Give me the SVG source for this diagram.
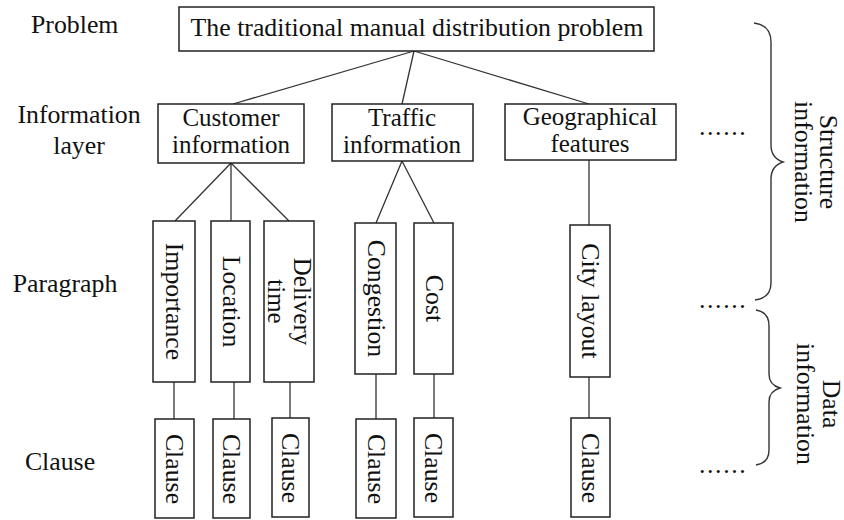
<svg xmlns="http://www.w3.org/2000/svg" width="844" height="520" viewBox="0 0 844 520">
<style>
text{font-family:"Liberation Serif","Times New Roman",serif;font-size:25.8px;fill:#111}
.box{fill:#fff;stroke:#222;stroke-width:1.5}
.c{stroke:#333;stroke-width:1.3;fill:none}
.m{text-anchor:middle}
.t2{font-size:25px}
.v{text-anchor:middle;dominant-baseline:central}
.br{stroke:#333;stroke-width:1.4;fill:none}
.dots{letter-spacing:1.6px}
</style>
<rect width="844" height="520" fill="#fff"/>
<g id="labels">
<text x="31" y="33">Problem</text>
<text class="m" x="79" y="123">Information</text>
<text class="m" x="79" y="154">layer</text>
<text class="m" x="65" y="292">Paragraph</text>
<text class="m" x="60" y="470">Clause</text>
</g>
<g id="connectors">
<path class="c" d="M414 51L233 104M414 51L402 104M414 51L589 104"/>
<path class="c" d="M231 163L175 221M231 163L231 221M231 163L289 221"/>
<path class="c" d="M402 161L376 223M402 161L434 223"/>
<path class="c" d="M589 160L589 225"/>
<path class="c" d="M174 382V419M234 382V419M290 382V418M376 374V419M434 374V418M589 377V418"/>
</g>
<g id="problem"><rect class="box" x="179" y="7" width="475" height="44"/><text class="m" x="417" y="36">The traditional manual distribution problem</text></g>
<g id="customer"><rect class="box" x="158" y="104" width="146" height="59"/><text class="m t2" x="231" y="125.5">Customer</text><text class="m t2" x="231" y="152.5">information</text></g>
<g id="traffic"><rect class="box" x="332" y="104" width="141" height="57"/><text class="m t2" x="402" y="125.5">Traffic</text><text class="m t2" x="402" y="152.5">information</text></g>
<g id="geo"><rect class="box" x="505" y="104" width="171" height="56"/><text class="m t2" x="590" y="125">Geographical</text><text class="m t2" x="590" y="152">features</text></g>
<g id="importance"><rect class="box" x="153" y="221" width="42" height="161"/><text class="v" transform="translate(174 301.5) rotate(90)">Importance</text></g>
<g id="location"><rect class="box" x="211" y="221" width="39" height="161"/><text class="v" transform="translate(231 301.5) rotate(90)">Location</text></g>
<g id="delivery"><rect class="box" x="264" y="221" width="50" height="161"/><text class="v t2" transform="translate(302 301.5) rotate(90)">Delivery</text><text class="v t2" transform="translate(276.5 301.5) rotate(90)">time</text></g>
<g id="congestion"><rect class="box" x="355" y="223" width="41" height="151"/><text class="v" transform="translate(376 298.5) rotate(90)">Congestion</text></g>
<g id="cost"><rect class="box" x="414" y="223" width="39" height="151"/><text class="v" transform="translate(434 298.5) rotate(90)">Cost</text></g>
<g id="city"><rect class="box" x="570" y="225" width="40" height="152"/><text class="v" transform="translate(590 301) rotate(90)">City layout</text></g>
<g id="clause1"><rect class="box" x="155" y="419" width="39" height="99"/><text class="v" transform="translate(174.5 469) rotate(90)">Clause</text></g>
<g id="clause2"><rect class="box" x="213" y="419" width="37" height="99"/><text class="v" transform="translate(231.5 469) rotate(90)">Clause</text></g>
<g id="clause3"><rect class="box" x="272" y="418" width="37" height="99"/><text class="v" transform="translate(290.5 468) rotate(90)">Clause</text></g>
<g id="clause4"><rect class="box" x="356" y="419" width="40" height="99"/><text class="v" transform="translate(376 469) rotate(90)">Clause</text></g>
<g id="clause5"><rect class="box" x="414" y="418" width="39" height="99"/><text class="v" transform="translate(433.5 468) rotate(90)">Clause</text></g>
<g id="clause6"><rect class="box" x="571" y="418" width="39" height="99"/><text class="v" transform="translate(590.5 468) rotate(90)">Clause</text></g>
<g id="dots">
<text class="dots" x="699" y="135">......</text>
<text class="dots" x="699" y="308">......</text>
<text class="dots" x="699" y="473">......</text>
</g>
<g id="structure-brace">
<path class="br" d="M754 23Q771 25 771 42V145Q771 158 783 162Q771 166 771 179V283Q771 298 755 300"/>
<text class="v" transform="translate(828 162) rotate(90)">Structure</text>
<text class="v" transform="translate(803 162) rotate(90)">information</text>
</g>
<g id="data-brace">
<path class="br" d="M756 310Q769 312 769 326V374Q769 385 780 388Q769 391 769 402V450Q769 463 756 465"/>
<text class="v" transform="translate(831 404) rotate(90)">Data</text>
<text class="v" transform="translate(805 404) rotate(90)">information</text>
</g>
</svg>
